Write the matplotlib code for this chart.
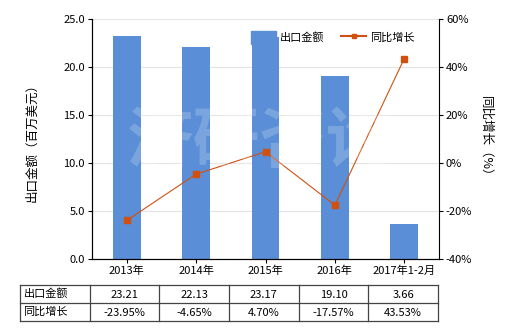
import matplotlib.pyplot as plt
from matplotlib.lines import Line2D
from matplotlib.patches import Patch

plt.rcParams['font.family'] = ['Noto Sans CJK SC', 'DejaVu Sans']
plt.rcParams['axes.unicode_minus'] = False

years = ['2013年', '2014年', '2015年', '2016年', '2017年1-2月']
export = [23.21, 22.13, 23.17, 19.10, 3.66]
growth = [-23.95, -4.65, 4.70, -17.57, 43.53]
export_txt = ['23.21', '22.13', '23.17', '19.10', '3.66']
growth_txt = ['-23.95%', '-4.65%', '4.70%', '-17.57%', '43.53%']

bar_c = '#5a8ed6'
line_c = '#d0500f'

fig = plt.figure(figsize=(5.2, 3.3), dpi=100)
ax = fig.add_axes([92/520, 71/330, 347/520, 240/330])
x = list(range(len(years)))
ax.bar(x, export, width=0.4, color=bar_c, zorder=2)
ax.set_xlim(-0.5, 4.5)
ax.set_ylim(0, 25)
ax.set_yticks([0, 5, 10, 15, 20, 25])
ax.set_yticklabels(['%.1f' % v for v in [0, 5, 10, 15, 20, 25]], fontsize=8)
ax.set_xticks(x)
ax.set_xticklabels(years, fontsize=8)
ax.grid(axis='y', color='#e4e4e4', linewidth=0.8, zorder=0)
ax.spines['top'].set_visible(False)
ax.spines['right'].set_visible(False)
ax.tick_params(length=3, width=0.8, pad=2)
ax.set_ylabel('出口金额（百万美元）', fontsize=9, labelpad=18)

ax2 = ax.twinx()
ax2.plot(x, growth, color=line_c, linewidth=0.8, marker='s', markersize=4, zorder=3)
ax2.set_ylim(-40, 60)
ax2.set_yticks([-40, -20, 0, 20, 40, 60])
ax2.set_yticklabels(['%d%%' % v for v in [-40, -20, 0, 20, 40, 60]], fontsize=8)
ax2.spines['top'].set_visible(False)
ax2.tick_params(length=3, width=0.8, pad=2)
ax2.set_ylabel('同比增长（%）', fontsize=9, rotation=270, labelpad=14)

handles = [Patch(color=bar_c), Line2D([0], [0], color=line_c, lw=1.5, marker='s', markersize=3)]
ax.legend(handles, ['出口金额', '同比增长'], loc='upper center', bbox_to_anchor=(0.695, 0.99),
          ncol=2, frameon=False, fontsize=8, handlelength=2.2, handleheight=1.3,
          columnspacing=1.5, handletextpad=0.4)

# watermark
fig.text(0.5, 0.57, '济研咨询', fontsize=48, color='white', alpha=0.2, ha='center', va='center', fontweight='bold')

# table below
tab = fig.add_axes([20/520, 9/330, 418/520, 36/330])
tab.set_xlim(-1.5, 4.5)
tab.set_ylim(0, 2)
tab.axis('off')
for yv in [0, 1, 2]:
    tab.plot([-1.5, 4.5], [yv, yv], color='#444444', lw=0.9, clip_on=False)
for xv in [-1.5, -0.5, 0.5, 1.5, 2.5, 3.5, 4.5]:
    tab.plot([xv, xv], [0, 2], color='#444444', lw=0.9, clip_on=False)
tab.text(-1.45, 1.5, '出口金额', fontsize=8, va='center', ha='left')
tab.text(-1.45, 0.5, '同比增长', fontsize=8, va='center', ha='left')
for i in x:
    tab.text(i, 1.45, export_txt[i], fontsize=8, va='center', ha='center')
    tab.text(i, 0.45, growth_txt[i], fontsize=8, va='center', ha='center')

fig.savefig('out.png', dpi=100)
